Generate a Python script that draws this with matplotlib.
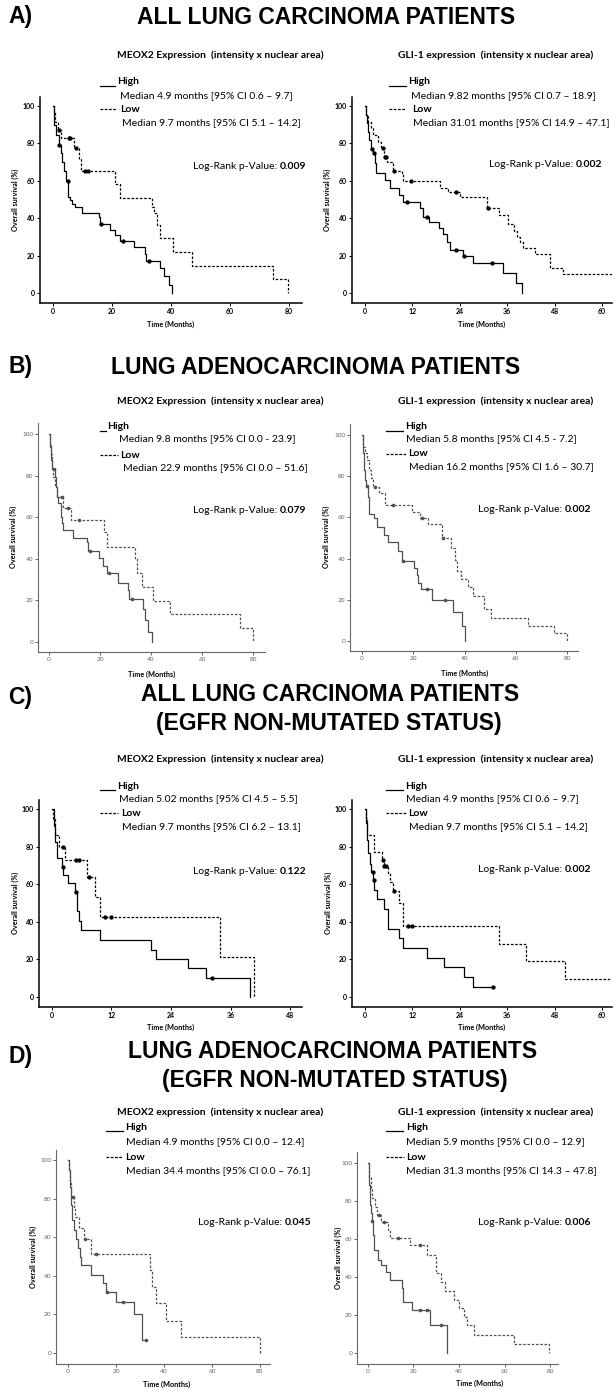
import numpy as np
import matplotlib.pyplot as plt
from matplotlib.lines import Line2D

# ---- survival curves: drop times (months), survival after drop (%), censor times ----
A_MEOX_HIGH_T = [0.2, 0.5, 1.1, 1.9, 2.7, 3.2, 3.7, 4.4, 5.2, 5.8, 6.4, 7.5, 9.8, 15.5, 16.0, 19.4, 21.1, 22.6, 27.3, 31.3, 31.6, 36.4, 37.5, 39.2, 40.3]
A_MEOX_HIGH_S = [94, 90, 84.5, 79, 74.7, 70, 65, 60, 51.6, 50, 47.7, 46, 42.7, 40.5, 37, 33.8, 30.8, 28, 24.5, 21, 17.4, 13.3, 8.9, 4.1, 0]
A_MEOX_HIGH_C = [2.2, 5.0, 16.3, 23.6, 32.4]
A_MEOX_LOW_T = [0.3, 0.8, 1.6, 2.7, 7.0, 8.8, 9.6, 21.1, 22.8, 33.6, 34.4, 35.4, 36.4, 40.7, 47.1, 74.6, 79.5]
A_MEOX_LOW_S = [96, 91.6, 87, 82.7, 77.4, 71.5, 65.5, 58.2, 51, 46, 43, 36.5, 29.4, 22, 14.6, 7.3, 0]
A_MEOX_LOW_C = [2.2, 5.3, 5.6, 7.8, 11.0, 11.8]

A_GLI_HIGH_T = [0.2, 0.4, 0.7, 1.0, 1.4, 2.0, 2.4, 2.8, 5.1, 6.2, 8.7, 9.7, 13.9, 14.6, 16.1, 18.6, 19.7, 20.7, 21.5, 24.9, 27.4, 35.0, 38.1, 39.8]
A_GLI_HIGH_S = [95, 91, 86, 82, 77, 74.7, 69.5, 64.4, 60.4, 56, 52.4, 48.5, 45.3, 40.8, 37.8, 34.6, 31.4, 27.4, 23, 19.8, 15.9, 10.5, 5.2, 0]
A_GLI_HIGH_C = [1.8, 2.2, 10.7, 15.8, 23.0, 25.1, 32.2]
A_GLI_LOW_T = [0.3, 0.8, 1.4, 2.1, 3.4, 4.1, 4.9, 5.6, 7.0, 9.3, 9.7, 19.0, 21.1, 24.0, 30.8, 33.8, 36.3, 37.6, 38.4, 39.2, 40.1, 43.0, 46.8, 50.2, 63.0]
A_GLI_LOW_S = [95, 91.6, 88, 84.5, 81, 77.4, 72.9, 70.2, 65.2, 64, 59.9, 56.3, 54.2, 51.5, 45.3, 42, 37, 33, 30, 27.4, 24.3, 20.7, 13.5, 10.2, 10.2]
A_GLI_LOW_C = [4.6, 5.1, 5.4, 7.3, 11.6, 23.0, 31.2]

B_MEOX_HIGH_T = [0.4, 0.65, 1.05, 2.35, 2.6, 3.0, 3.7, 4.6, 5.0, 5.6, 9.5, 14.8, 15.2, 19.7, 21.0, 22.9, 27.2, 31.1, 31.5, 36.7, 37.6, 39.0, 40.3]
B_MEOX_HIGH_S = [93.8, 87.4, 83.4, 79.4, 74.6, 69.8, 66.6, 60.2, 57, 53.8, 50.2, 48.2, 43.7, 40.6, 36.6, 33, 28.6, 25, 20.5, 15.7, 10.6, 5, 0]
B_MEOX_HIGH_C = [2.1, 15.9, 23.5, 32.4]
B_MEOX_LOW_T = [0.4, 0.8, 1.3, 1.7, 2.35, 3.0, 5.6, 8.5, 21.6, 22.6, 33.7, 34.6, 36.3, 40.9, 47.5, 74.9, 80.1]
B_MEOX_LOW_S = [95, 90.6, 84, 79.4, 74.6, 69.8, 64.6, 58.9, 52.8, 45.8, 39.7, 33, 26.6, 19.7, 13.3, 6.6, 0]
B_MEOX_LOW_C = [5.0, 7.6, 11.8]

B_GLI_HIGH_T = [0.4, 0.8, 1.2, 1.6, 2.2, 2.6, 2.9, 4.7, 6.0, 8.7, 10.0, 14.2, 15.6, 20.3, 21.3, 22.0, 23.0, 27.5, 35.4, 38.9, 40.0]
B_GLI_HIGH_S = [91, 83, 78.2, 75, 70, 66, 61.7, 59.5, 55.5, 51.5, 48.2, 43.8, 39, 35.3, 32, 28, 25, 20, 13.8, 7, 0]
B_GLI_HIGH_C = [2.0, 15.9, 25.3, 32.4]
B_GLI_LOW_T = [0.5, 1.2, 1.8, 2.7, 3.5, 4.4, 6.6, 9.0, 19.4, 22.7, 25.9, 31.1, 34.8, 36.3, 37.0, 38.5, 41.2, 43.4, 47.5, 50.3, 64.9, 74.9, 80.0]
B_GLI_LOW_S = [94.3, 91, 87.9, 83, 79, 74.9, 72, 66, 62.8, 59.5, 56.8, 49.8, 45, 39.5, 34, 30, 26, 22, 15.3, 11.3, 7, 3.6, 0]
B_GLI_LOW_C = [5.1, 12.0, 23.3, 31.5]

C_MEOX_HIGH_T = [0.4, 0.6, 1.0, 2.0, 2.3, 3.2, 4.6, 5.0, 5.4, 5.9, 9.6, 20.0, 21.0, 27.4, 31.1, 40.0]
C_MEOX_HIGH_S = [91, 82.7, 73.8, 69.4, 65, 60.5, 56, 45.5, 40.2, 35.4, 30.4, 25, 20.2, 15.4, 10.1, 0]
C_MEOX_HIGH_C = [2.15, 4.8, 32.3]
C_MEOX_LOW_T = [0.2, 0.7, 1.4, 2.6, 7.1, 8.6, 9.6, 33.8, 40.7]
C_MEOX_LOW_S = [94.5, 86, 80, 73, 63.7, 53, 42.5, 21.1, 0]
C_MEOX_LOW_C = [2.2, 4.9, 5.4, 7.5, 10.8, 12.0]

C_GLI_HIGH_T = [0.2, 0.5, 0.8, 1.2, 1.5, 2.05, 2.3, 3.1, 4.9, 5.7, 5.9, 8.7, 9.6, 15.7, 20.1, 25.1, 27.3, 32.5]
C_GLI_HIGH_S = [92.4, 83.5, 76.5, 71, 66.7, 62.3, 57, 52, 46.7, 41.4, 36.3, 31.3, 26.3, 21, 15.8, 10.5, 5.3, 5.3]
C_GLI_HIGH_C = [1.9, 2.15, 32.5]
C_GLI_LOW_T = [0.3, 0.6, 2.3, 4.4, 4.7, 5.9, 6.4, 7.0, 8.7, 9.5, 33.9, 40.8, 50.6, 63.0]
C_GLI_LOW_S = [95, 86, 77, 72.9, 69.7, 65.8, 61.4, 56.6, 50, 38, 28.3, 19, 9.6, 9.6]
C_GLI_LOW_C = [4.6, 4.9, 5.3, 7.4, 10.8, 11.8]

D_MEOX_HIGH_T = [0.4, 0.7, 1.1, 1.4, 1.8, 2.5, 3.2, 4.3, 5.0, 5.6, 9.4, 14.7, 15.7, 19.9, 27.5, 30.7, 31.0, 32.6]
D_MEOX_HIGH_S = [94.8, 86, 81, 76.7, 69, 63.7, 59, 54.2, 50, 45.5, 40.5, 36.4, 31.5, 26.5, 20, 13.5, 6.8, 6.8]
D_MEOX_HIGH_C = [16.1, 23.0, 32.6]
D_MEOX_LOW_T = [0.4, 0.8, 1.4, 2.5, 2.9, 4.6, 6.7, 9.4, 34.2, 35.1, 36.5, 40.7, 46.9, 80.0]
D_MEOX_LOW_S = [94.8, 88, 81, 75, 70.3, 64.6, 59, 51.3, 43, 34.4, 25.7, 16.8, 8.5, 0]
D_MEOX_LOW_C = [2.2, 7.1, 11.5]

D_GLI_HIGH_T = [0.4, 0.9, 1.3, 1.7, 2.3, 2.7, 4.4, 5.6, 7.9, 9.7, 14.8, 15.5, 19.2, 27.2, 34.8]
D_GLI_HIGH_S = [88.4, 78, 73.5, 69.5, 62, 54.2, 49, 46.3, 42.8, 38.4, 34, 27, 22.6, 14.7, 0]
D_GLI_HIGH_C = [2.0, 22.8, 25.8, 31.9]
D_GLI_LOW_T = [0.6, 1.3, 2.0, 3.1, 3.8, 5.7, 8.9, 9.6, 18.4, 25.8, 29.8, 32.0, 33.8, 38.0, 40.0, 42.0, 43.5, 46.5, 64.0, 79.5]
D_GLI_LOW_S = [92.8, 86.7, 81.4, 77, 72.6, 68.8, 64.7, 60.4, 56.8, 51.6, 42, 37.5, 32.5, 28, 23.5, 19, 14.5, 9.5, 4.7, 0]
D_GLI_LOW_C = [4.7, 7.2, 13.3, 22.8]

TITLES = ['ALL LUNG CARCINOMA PATIENTS', 'LUNG ADENOCARCINOMA PATIENTS']
EGFR = '(EGFR NON-MUTATED STATUS)'
MEDIANS = {
    'A1': ('Median 4.9 months [95% CI 0.6 – 9.7]', 'Median 9.7 months [95% CI 5.1 – 14.2]', '0.009'),
    'A2': ('Median 9.82 months [95% CI 0.7 – 18.9]', 'Median 31.01 months [95% CI 14.9 – 47.1]', '0.002'),
    'B1': ('Median 9.8 months [95% CI 0.0 - 23.9]', 'Median 22.9 months [95% CI 0.0 – 51.6]', '0.079'),
    'B2': ('Median 5.8 months [95% CI 4.5 - 7.2]', 'Median 16.2 months [95% CI 1.6 – 30.7]', '0.002'),
    'C1': ('Median 5.02 months [95% CI 4.5 – 5.5]', 'Median 9.7 months [95% CI 6.2 – 13.1]', '0.122'),
    'C2': ('Median 4.9 months [95% CI 0.6 – 9.7]', 'Median 9.7 months [95% CI 5.1 – 14.2]', '0.002'),
    'D1': ('Median 4.9 months [95% CI 0.0 – 12.4]', 'Median 34.4 months [95% CI 0.0 – 76.1]', '0.045'),
    'D2': ('Median 5.9 months [95% CI 0.0 – 12.9]', 'Median 31.3 months [95% CI 14.3 – 47.8]', '0.006'),
}

W, H = 616, 1392
fig = plt.figure(figsize=(W / 100, H / 100), dpi=100)
BODY = ['Lato', 'DejaVu Sans']
HEAD = ['Liberation Sans', 'DejaVu Sans']


def fx(x):
    return x / W


def fy(y):
    return 1 - y / H


def put(x, y, s, size=7.5, **kw):
    kw.setdefault('va', 'center')
    kw.setdefault('family', BODY)
    return fig.text(fx(x), fy(y), s, size=size, **kw)


def hline(x0, x1, y, ls='-'):
    fig.add_artist(Line2D([fx(x0), fx(x1)], [fy(y), fy(y)], transform=fig.transFigure,
                          color='black', lw=0.9, ls=ls))


def km_plot(box, xlim, ylim, xticks, high, low, soft):
    l, t, r, b = box
    ax = fig.add_axes([fx(l), fy(b), (r - l) / W, (b - t) / H])
    col = '#505050' if soft else 'black'
    for (tt, ss, cc), ls in ((high, '-'), (low, (0, (2.0, 1.4)))):
        x = np.r_[0, tt]
        y = np.r_[100, ss]
        ax.step(x, y, where='post', color=col, lw=0.9, ls=ls)
        idx = np.searchsorted(x, cc, side='right') - 1
        ax.plot(cc, y[idx], 'o', ms=1.6 if soft else 2.1, color=col)
    ax.set_xlim(xlim)
    ax.set_ylim(ylim)
    ax.set_xticks(xticks)
    ax.set_yticks([0, 20, 40, 60, 80, 100])
    for s in ('top', 'right'):
        ax.spines[s].set_visible(False)
    for s in ('left', 'bottom'):
        ax.spines[s].set_linewidth(0.8 if soft else 1.1)
        ax.spines[s].set_color('#666666' if soft else 'black')
    ax.tick_params(length=2, width=0.7, pad=1.5, labelsize=4.6 if soft else 5,
                   colors='#666666' if soft else 'black')
    for lab in ax.get_xticklabels() + ax.get_yticklabels():
        lab.set_family(BODY)
        if not soft:
            lab.set_fontweight('bold')
    ax.patch.set_visible(False)
    return ax


def legend(key, lx, ly):
    # x: line start, solid end, High, median1, dashed end, Low, median2, log-rank
    xs0, xs1, xh, xm1, xd1, xl, xm2, xlr = lx
    yh, ym1, yl, ym2, ylr = ly
    med1, med2, pval = MEDIANS[key]
    hline(xs0, xs1, yh + 4)
    put(xh, yh, 'High', weight='bold')
    put(xm1, ym1, med1)
    hline(xs0, xd1, yl, ls=(0, (2.2, 1.2)))
    put(xl, yl, 'Low', weight='bold')
    put(xm2, ym2, med2)
    t1 = put(xlr, ylr + 3, 'Log-Rank p-Value:', va='baseline')
    fig.canvas.draw()
    bb = t1.get_window_extent()
    fig.text(fx(bb.x1 + 3), fy(ylr + 3), pval, size=7.5, weight='bold',
             family=BODY, va='baseline')


# ---- headings ----
TS = 16.5
for lab, y in (('A)', 17), ('B)', 367), ('C)', 698), ('D)', 1057)):
    put(8, y, lab, size=TS, weight='bold', family=HEAD)
put(326, 17, TITLES[0], size=TS, weight='bold', family=HEAD, ha='center')
put(316, 367, TITLES[1], size=TS, weight='bold', family=HEAD, ha='center')
put(330, 694, TITLES[0], size=TS, weight='bold', family=HEAD, ha='center')
put(329, 724, EGFR, size=TS, weight='bold', family=HEAD, ha='center')
put(333, 1052, TITLES[1], size=TS, weight='bold', family=HEAD, ha='center')
put(335, 1080, EGFR, size=TS, weight='bold', family=HEAD, ha='center')

sub_r = 'GLI-1 expression  (intensity x nuclear area)'
for y, left in ((55, 'MEOX2 Expression'), (401, 'MEOX2 Expression'),
                (759, 'MEOX2 Expression'), (1112, 'MEOX2 expression')):
    put(220, y, left + '  (intensity x nuclear area)', size=7.4, weight='bold', ha='center')
    put(496, y, sub_r, size=7.4, weight='bold', ha='center')

# ---- plots ----
ax_specs = [
    ((40, 97, 302, 303), (-4.4, 84.4), (-5.3, 104.8), [0, 20, 40, 60, 80],
     (A_MEOX_HIGH_T, A_MEOX_HIGH_S, A_MEOX_HIGH_C), (A_MEOX_LOW_T, A_MEOX_LOW_S, A_MEOX_LOW_C), False),
    ((352, 97, 612, 303), (-3.3, 62.5), (-5.3, 104.8), [0, 12, 24, 36, 48, 60],
     (A_GLI_HIGH_T, A_GLI_HIGH_S, A_GLI_HIGH_C), (A_GLI_LOW_T, A_GLI_LOW_S, A_GLI_LOW_C), False),
    ((38, 423, 265, 652), (-4.3, 84.7), (-4.8, 105.3), [0, 20, 40, 60, 80],
     (B_MEOX_HIGH_T, B_MEOX_HIGH_S, B_MEOX_HIGH_C), (B_MEOX_LOW_T, B_MEOX_LOW_S, B_MEOX_LOW_C), True),
    ((350, 424, 578, 651), (-4.7, 84.3), (-4.9, 105.3), [0, 20, 40, 60, 80],
     (B_GLI_HIGH_T, B_GLI_HIGH_S, B_GLI_HIGH_C), (B_GLI_LOW_T, B_GLI_LOW_S, B_GLI_LOW_C), True),
    ((39, 800, 302, 1007), (-2.6, 50.4), (-5.3, 104.8), [0, 12, 24, 36, 48],
     (C_MEOX_HIGH_T, C_MEOX_HIGH_S, C_MEOX_HIGH_C), (C_MEOX_LOW_T, C_MEOX_LOW_S, C_MEOX_LOW_C), False),
    ((352, 800, 612, 1007), (-3.3, 62.5), (-5.3, 104.8), [0, 12, 24, 36, 48, 60],
     (C_GLI_HIGH_T, C_GLI_HIGH_S, C_GLI_HIGH_C), (C_GLI_LOW_T, C_GLI_LOW_S, C_GLI_LOW_C), False),
    ((56, 1150, 270, 1364), (-5.0, 84.2), (-5.7, 105.2), [0, 20, 40, 60, 80],
     (D_MEOX_HIGH_T, D_MEOX_HIGH_S, D_MEOX_HIGH_C), (D_MEOX_LOW_T, D_MEOX_LOW_S, D_MEOX_LOW_C), True),
    ((357, 1152, 558, 1364), (-4.8, 83.5), (-5.8, 105.8), [0, 20, 40, 60, 80],
     (D_GLI_HIGH_T, D_GLI_HIGH_S, D_GLI_HIGH_C), (D_GLI_LOW_T, D_GLI_LOW_S, D_GLI_LOW_C), True),
]
for spec in ax_specs:
    km_plot(*spec)

# axis titles
for x, y in ((15, 200), (327, 200), (13, 537), (326, 537), (15, 903), (328, 903), (33, 1257), (338, 1258)):
    put(x, y, 'Overall survival (%)', size=5.2, weight='bold', rotation=90, ha='center')
for x, y in ((171, 324), (482, 324), (152, 674), (465, 673), (171, 1027), (482, 1027), (167, 1384), (480, 1383)):
    put(x, y, 'Time (Months)', size=5.2, weight='bold', ha='center')

# ---- legends ----
legend('A1', (100, 115, 117, 120, 117, 120, 122, 193), (82, 96, 109, 123, 166))
legend('A2', (389, 406, 408, 411, 405, 412, 413, 489), (82, 96, 109, 123, 164))
legend('B1', (100, 106, 107, 119, 118, 120, 123, 193), (427, 439, 455, 468, 510))
legend('B2', (386, 403, 405, 406, 406, 408, 409, 478), (427, 439, 454, 467, 509))
legend('C1', (100, 115, 117, 119, 118, 121, 122, 193), (786, 799, 813, 827, 871))
legend('C2', (386, 403, 405, 406, 406, 408, 409, 478), (786, 799, 813, 827, 869))
legend('D1', (106, 123, 125, 126, 123, 125, 126, 198), (1127, 1142, 1157, 1171, 1222))
legend('D2', (386, 403, 406, 406, 404, 406, 406, 478), (1127, 1142, 1157, 1171, 1222))

fig.savefig('out.png', dpi=100, facecolor='white')
